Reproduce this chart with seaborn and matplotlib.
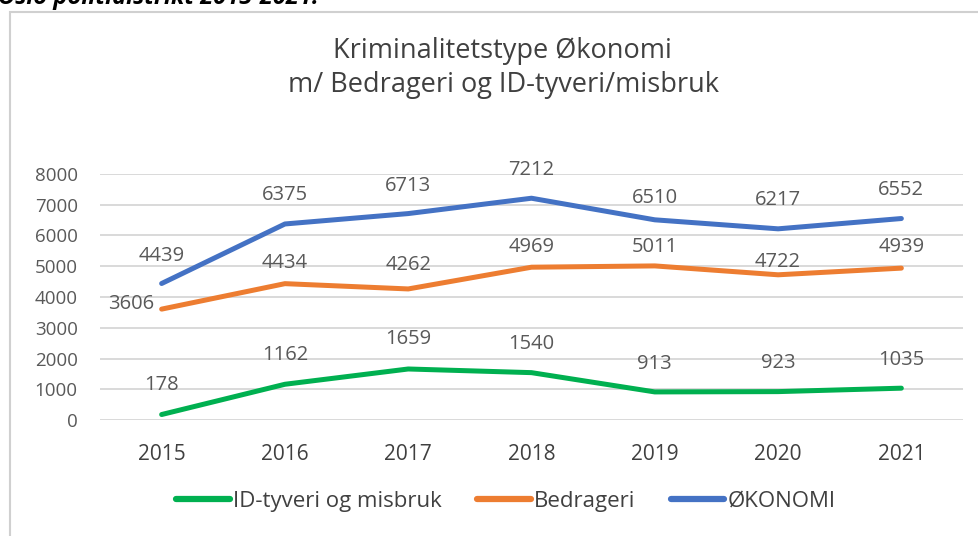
import matplotlib
matplotlib.use("Agg")
import matplotlib.pyplot as plt
import seaborn as sns
import pandas as pd
from matplotlib.patches import Rectangle
from matplotlib.lines import Line2D

# ---- data ----
years = ["2015", "2016", "2017", "2018", "2019", "2020", "2021"]
id_tyveri = [178, 1162, 1659, 1540, 913, 923, 1035]
bedrageri = [3606, 4434, 4262, 4969, 5011, 4722, 4939]
okonomi = [4439, 6375, 6713, 7212, 6510, 6217, 6552]
series_names = ["ID-tyveri og misbruk", "Bedrageri", "ØKONOMI"]
title_lines = ["Kriminalitetstype Økonomi", "m/ Bedrageri og ID-tyveri/misbruk"]
caption = "Oslo politidistrikt 2015-2021."
y_ticks = [0, 1000, 2000, 3000, 4000, 5000, 6000, 7000, 8000]

# ---- styling ----
colors = ["#00B050", "#ED7D31", "#4472C4"]
# label offsets in pixels (dx, dy) per series/point
label_offsets = [
    [(0, 30), (0, 29), (0, 30), (0, 29), (0, 28), (0, 29), (0, 28)],
    [(-31, 5), (0, 21), (0, 24), (0, 20), (0, 19), (0, 13), (0, 21)],
    [(0, 28), (0, 29), (0, 28), (0, 28), (0, 22), (0, 29), (0, 29)],
]

sns.set_theme(style="white")
plt.rcParams["font.family"] = ["Open Sans", "DejaVu Sans"]

W, H = 979, 536
fig = plt.figure(figsize=(W / 100, H / 100), dpi=100)
fig.patch.set_facecolor("white")

def fx(px):
    return px / W

def fy(py):
    return 1 - py / H

ax = fig.add_axes([fx(100), fy(420), fx(963) - fx(100), fy(174) - fy(420)])

values = [id_tyveri, bedrageri, okonomi]
rows = []
for name, vals in zip(series_names, values):
    for i, (yr, v) in enumerate(zip(years, vals)):
        rows.append({"idx": i, "year": yr, "value": v, "series": name})
df = pd.DataFrame(rows)

sns.lineplot(data=df, x="idx", y="value", hue="series", hue_order=series_names,
             palette=colors, linewidth=3.6, sort=False, ax=ax, legend=False,
             solid_capstyle="round", solid_joinstyle="round")

for s, vals in enumerate(values):
    for i, v in enumerate(vals):
        dx, dy = label_offsets[s][i]
        ax.annotate(f"{v}", xy=(i, v), xytext=(dx, dy), textcoords="offset pixels",
                    ha="center", va="center", fontsize=14.5, color="#595959")

ax.set_xlim(-0.5, len(years) - 0.5)
ax.set_ylim(0, 8000)
ax.set_yticks(y_ticks)
ax.set_yticklabels([str(t) for t in y_ticks])
ax.set_xticks(range(len(years)))
ax.set_xticklabels(years)
ax.set_xlabel("")
ax.set_ylabel("")
for sp in ax.spines.values():
    sp.set_visible(False)
ax.grid(axis="y", color="#D9D9D9", linewidth=1.4)
ax.grid(axis="x", visible=False)
ax.set_axisbelow(True)
ax.tick_params(axis="y", length=0, pad=16, labelsize=13.5, labelcolor="#595959")
ax.tick_params(axis="x", length=0, pad=17, labelsize=15, labelcolor="#404040")

# title
fig.text(fx(502), fy(51), title_lines[0], ha="center", va="center", fontsize=19.5, color="#404040")
fig.text(fx(503), fy(85), title_lines[1], ha="center", va="center", fontsize=19.5, color="#404040")

# legend
handles = [Line2D([0], [0], color=c, linewidth=4.5, solid_capstyle="round") for c in colors]
fig.legend(handles, series_names, loc="center", bbox_to_anchor=(fx(506), fy(501)),
           ncol=3, frameon=False, fontsize=16, handlelength=2.4, handletextpad=0.15,
           columnspacing=1.6, labelcolor="#404040")

# chart frame
fig.patches.append(Rectangle((fx(10), fy(600)), 1.2, fy(12) - fy(600), transform=fig.transFigure,
                             fill=False, edgecolor="#D0D0D0", linewidth=1.5, zorder=0))

# cut-off caption at top
fig.text(fx(-2), fy(4), caption, ha="left", va="baseline", fontsize=17,
         fontweight="bold", fontstyle="italic", color="black")

fig.savefig("out.png", dpi=100)
